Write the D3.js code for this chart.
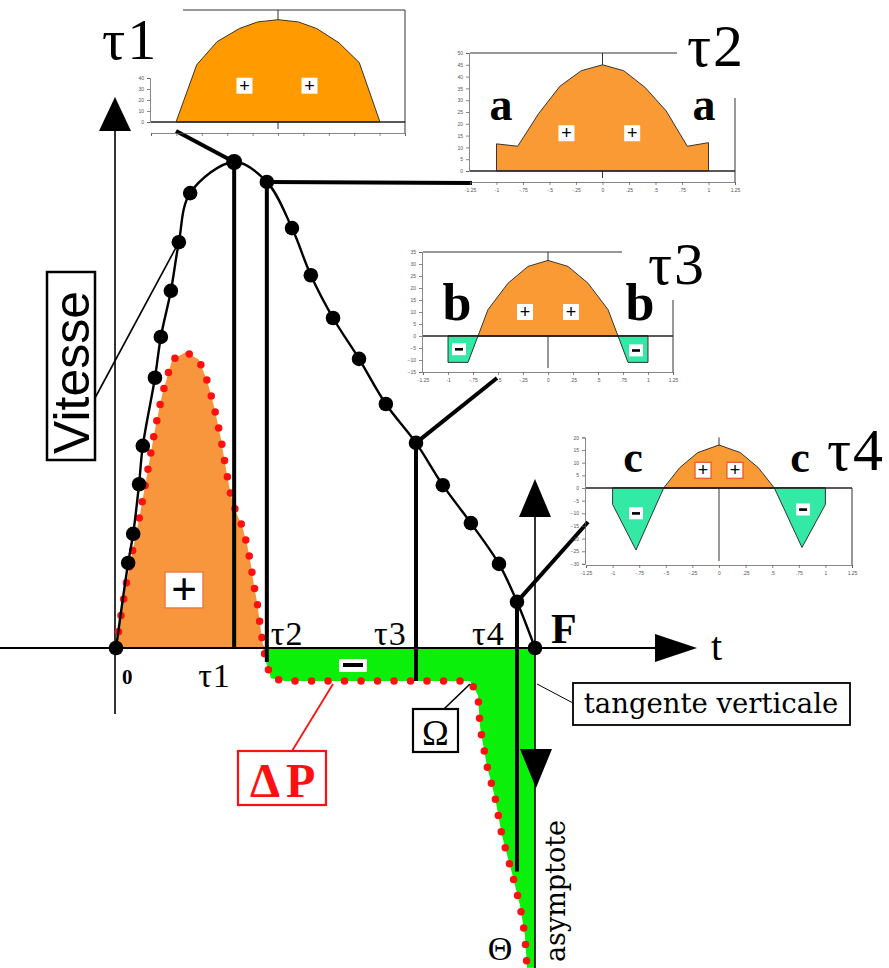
<!DOCTYPE html>
<html>
<head>
<meta charset="utf-8">
<script src="https://cdnjs.cloudflare.com/ajax/libs/d3/7.8.5/d3.min.js"></script>
<style>
  body { margin: 0; background: #fff; }
  .tiny text { font-family: "Liberation Sans", sans-serif; font-size: 5px; fill: #555; }
  .tiny path, .tiny line { stroke: #555; stroke-width: 0.7; }
</style>
</head>
<body>
<div id="chart"></div>
<script>
// ---- main diagram : time t (F = 10), speed and pressure on the same vertical scale ----
var tauNames = ["τ1", "τ2", "τ3", "τ4"];
var tauTimes = [2.82, 3.6, 7.16, 9.57];
var tEnd = 10;                       // F
var presAtTau = [0, -2.9, -6.8, -46]; // where the tau lines stop

// speed (black dots)
var speedT = [0, 0.29, 0.41, 0.55, 0.64, 0.93, 1.07, 1.31, 1.50, 1.77, 2.82, 3.60, 4.20, 4.65, 5.18, 5.80, 6.44, 7.16, 7.80, 8.47, 9.14, 9.57, 10];
var speedV = [0, 17.5, 23.5, 33.7, 41.6, 55.6, 64.0, 73.5, 83.5, 93.6, 100, 95.9, 86.4, 76.7, 67.9, 59.5, 50.2, 42.2, 33.5, 25.7, 17.3, 9.5, 0];

// pressure difference ΔP (red dots)
var presT = [0, 0.12, 0.24, 0.41, 0.57, 0.76, 0.93, 1.10, 1.34, 1.67, 1.98, 2.17, 2.32, 2.41, 2.51, 2.58, 2.65, 2.74, 2.86, 3.01, 3.13, 3.22, 3.29, 3.37, 3.44, 3.51, 3.58, 3.70, 4.03, 8.45, 8.64, 8.69, 8.85, 9.05, 9.21, 9.45, 9.64, 9.76, 9.81];
var presP = [0, 6.8, 13.0, 20.6, 27.4, 36.6, 44.9, 52.1, 59.3, 60.9, 59.3, 55.1, 50.4, 46.9, 42.8, 39.1, 35.6, 31.5, 28.0, 25.1, 21.2, 17.1, 13.0, 9.3, 4.7, 0.6, -2.9, -6.2, -6.8, -6.8, -9.7, -16.3, -24.1, -30.9, -38.5, -46.3, -52.9, -59.1, -65.8];

// velocity profiles across the pipe (r from -1 to 1)
var prof1R = [-1, -0.8, -0.6, -0.38, -0.2, 0, 0.2, 0.38, 0.6, 0.8, 1];
var prof1V = [1, 52, 73, 85, 91, 93, 91, 85, 72, 54, 1];
var prof2R = [-1, -0.8, -0.6, -0.4, -0.2, 0, 0.2, 0.4, 0.6, 0.8, 1];
var prof2V = [11.5, 10.5, 24.5, 36, 42.5, 45, 42.5, 35.5, 25.5, 10.5, 12];
var prof3R = [-1, -0.8, -0.7, -0.6, -0.4, -0.2, 0, 0.2, 0.4, 0.6, 0.7, 0.8, 1];
var prof3V = [-11, -11, 0, 11, 22, 29, 31.5, 29, 22, 11, 0, -11, -11];
var prof4R = [-1, -0.78, -0.52, -0.37, -0.2, 0, 0.2, 0.37, 0.52, 0.78, 1];
var prof4V = [-6.5, -24.5, 0, 8, 14, 17, 14, 8, 0, -23.5, -6.5];

var xTickVals = [-1.25, -1, -0.75, -0.5, -0.25, 0, 0.25, 0.5, 0.75, 1, 1.25];
var xTickLabels = ["-1.25", "-1", "-.75", "-.5", "-.25", "0", ".25", ".5", ".75", "1", "1.25"];
var yTicks1 = [0, 10, 20, 30, 40];
var yTicks2 = d3.range(0, 51, 5);
var yTicks3 = d3.range(-15, 36, 5);
var yTicks4 = d3.range(-30, 21, 5);

var W = 889, H = 968;
var SERIF = "'Liberation Serif', 'Times New Roman', serif";
var WIDE = "'DejaVu Serif', serif";

var svg = d3.select("#chart").append("svg")
    .attr("width", W).attr("height", H)
    .style("background", "#fff");

var x = d3.scaleLinear().domain([0, tEnd]).range([116, 535]);
var y = d3.scaleLinear().domain([0, 100]).range([648, 162]);

var speed = speedT.map(function(t, i) { return {t: t, v: speedV[i]}; });
var pres = presT.map(function(t, i) { return {t: t, p: presP[i]}; });

function speedAt(t) {
    return speed.find(function(d) { return Math.abs(d.t - t) < 1e-6; }).v;
}

var lineP = d3.line().x(function(d) { return x(d.t); }).y(function(d) { return y(d.p); });

// ---- filled areas under ΔP ----
var posPts = pres.filter(function(d) { return d.t <= tauTimes[1]; });
svg.append("path")
    .datum(posPts)
    .attr("d", d3.area()
        .x(function(d) { return x(d.t); })
        .y0(y(0))
        .y1(function(d) { return y(Math.max(0, d.p)); }))
    .attr("fill", "#f7963c");

var iz = pres.findIndex(function(d) { return d.p < 0; });
var negPts = [{t: pres[iz - 1].t, p: 0}]
    .concat(pres.slice(iz))
    .concat([{t: tEnd, p: pres[pres.length - 1].p}, {t: tEnd, p: 0}]);
svg.append("path")
    .attr("d", lineP(negPts) + "Z")
    .attr("fill", "#0af00a");

// ---- axes ----
var ax = svg.append("g");
ax.append("line").attr("x1", 0).attr("x2", 660).attr("y1", y(0)).attr("y2", y(0))
    .attr("stroke", "#000").attr("stroke-width", 2);
ax.append("path").attr("d", "M697," + y(0) + "L655," + (y(0) - 14) + "L655," + (y(0) + 14) + "Z");
ax.append("line").attr("x1", x(0) - 1).attr("x2", x(0) - 1).attr("y1", 714).attr("y2", 128)
    .attr("stroke", "#000").attr("stroke-width", 1.6);
ax.append("path").attr("d", "M" + (x(0) - 1) + ",97L" + (x(0) - 17) + ",131L" + (x(0) + 15) + ",131Z");

// F : vertical tangent, arrows and asymptote
ax.append("line").attr("x1", x(tEnd)).attr("x2", x(tEnd)).attr("y1", 515).attr("y2", H)
    .attr("stroke", "#000").attr("stroke-width", 1.6);
ax.append("path").attr("d", "M" + x(tEnd) + ",479L" + (x(tEnd) - 16) + ",517L" + (x(tEnd) + 16) + ",517Z");
ax.append("path").attr("d", "M" + (x(tEnd) + 1) + ",788L" + (x(tEnd) - 15) + ",749L" + (x(tEnd) + 17) + ",749Z");

// ---- red dotted ΔP curve ----
svg.append("path")
    .datum(pres)
    .attr("d", lineP)
    .attr("fill", "none")
    .attr("stroke", "#ff1010")
    .attr("stroke-width", 7.5)
    .attr("stroke-linecap", "round")
    .attr("stroke-dasharray", "0 16.5");

// ---- tau lines and leaders to the insets ----
var leaderEnds = [[176, 131], [472, 183], [497, 378], [588, 522]];
tauTimes.forEach(function(t, i) {
    svg.append("line")
        .attr("x1", x(t)).attr("x2", x(t))
        .attr("y1", y(speedAt(t))).attr("y2", y(presAtTau[i]))
        .attr("stroke", "#000").attr("stroke-width", 4);
    svg.append("line")
        .attr("x1", x(t)).attr("y1", y(speedAt(t)))
        .attr("x2", leaderEnds[i][0]).attr("y2", leaderEnds[i][1])
        .attr("stroke", "#000").attr("stroke-width", 4);
});

// leader from "Vitesse" box
svg.append("line")
    .attr("x1", x(speed[8].t)).attr("y1", y(speed[8].v))
    .attr("x2", 95).attr("y2", 398)
    .attr("stroke", "#000").attr("stroke-width", 1.6);

// ---- speed curve ----
svg.append("path")
    .datum(speed)
    .attr("d", d3.line().curve(d3.curveCatmullRom.alpha(0.5))
        .x(function(d) { return x(d.t); }).y(function(d) { return y(d.v); }))
    .attr("fill", "none").attr("stroke", "#000").attr("stroke-width", 2.4);

svg.selectAll(".dot")
    .data(speed)
    .enter().append("circle")
    .attr("class", "dot")
    .attr("cx", function(d) { return x(d.t); })
    .attr("cy", function(d) { return y(d.v); })
    .attr("r", function(d) { return d.v === 100 ? 8 : 7.3; })
    .attr("fill", "#000");

// ---- labels of the main diagram ----
function label(txt, px, py, size, opts) {
    opts = opts || {};
    var t = svg.append("text")
        .attr("x", px).attr("y", py)
        .attr("font-family", opts.family || SERIF)
        .attr("font-size", size)
        .attr("font-weight", opts.bold ? "bold" : "normal")
        .attr("fill", opts.color || "#000")
        .attr("text-anchor", opts.anchor || "start")
        .text(txt);
    if (opts.rotate) t.attr("transform", "rotate(-90," + px + "," + py + ")");
    if (opts.spacing) t.attr("letter-spacing", opts.spacing);
    return t;
}

function boxed(px, py, w, h, stroke, sw) {
    svg.append("rect").attr("x", px).attr("y", py).attr("width", w).attr("height", h)
        .attr("fill", "#fff").attr("stroke", stroke).attr("stroke-width", sw);
}

label("0", x(0) + 6, 684, 21, {bold: true});
label(tauNames[0], x(tauTimes[0]) - 36, 687, 34, {spacing: 1});
label(tauNames[1], x(tauTimes[1]) + 4, 645, 34, {spacing: 1});
label(tauNames[2], x(tauTimes[2]) - 42, 645, 34, {spacing: 1});
label(tauNames[3], x(tauTimes[3]) - 45, 645, 34, {spacing: 1});
label("F", x(tEnd) + 16, 643, 42, {bold: true});
label("t", 711, 660, 40);

// "+" and "−" boxes
boxed(165, 572, 38, 36, "#f07a45", 1.5);
label("+", 184, 604, 44, {anchor: "middle", family: "'Liberation Sans', sans-serif"});
boxed(339, 659, 28, 13, "#fff", 0);
svg.append("rect").attr("x", 343).attr("y", 663).attr("width", 20).attr("height", 4).attr("fill", "#000");

// Vitesse
boxed(47, 272, 48, 188, "#000", 2.5);
label("Vitesse", 89, 454, 50, {rotate: true, family: "'Liberation Sans', Arial, sans-serif"});

// ΔP
svg.append("line").attr("x1", 333).attr("y1", 684).attr("x2", 292).attr("y2", 751)
    .attr("stroke", "#ff1010").attr("stroke-width", 1.8);
boxed(238, 751, 88, 54, "#ff1010", 2.2);
label("ΔP", 250, 797, 48, {bold: true, color: "#ff1010", spacing: 6});

// Ω
svg.append("line").attr("x1", 470).attr("y1", 684).attr("x2", 444).attr("y2", 709)
    .attr("stroke", "#000").attr("stroke-width", 1.6);
boxed(413, 709, 45, 43, "#000", 2.2);
label("Ω", 435.5, 745, 36, {anchor: "middle"});

// tangente verticale
svg.append("line").attr("x1", x(tEnd) + 2).attr("y1", 684).attr("x2", 573).attr("y2", 703)
    .attr("stroke", "#000").attr("stroke-width", 1);
boxed(573, 683, 277, 42, "#000", 1.8);
label("tangente verticale", 711, 713, 27.5, {anchor: "middle", family: WIDE});

label("asymptote", 565, 962, 27, {rotate: true, family: WIDE});
label("Θ", 500, 960, 34, {anchor: "middle"});

// ---- insets : velocity profile across the pipe at each tau ----
var insets = [
    {r: prof1R, v: prof1V, left: 151, right: 405, zeroY: 122, k: 1.1, axisY: 133, yTicks: yTicks1,
     topY: 10, topFrom: 183, topTo: 405, rightFrom: 10, xLabels: false, fill: "#ff9a00",
     plus: [[-0.33, 33], [0.31, 33]], minus: [],
     name: tauNames[0], nameX: 102, nameY: 59, nameSize: 58, letters: []},
    {r: prof2R, v: prof2V, left: 470, right: 735, zeroY: 171, k: 2.36, axisY: 182, yTicks: yTicks2,
     topY: 53, topFrom: 470, topTo: 677, rightFrom: 98, xLabels: true, fill: "#f99a35",
     plus: [[-0.34, 16], [0.28, 16]], minus: [],
     name: tauNames[1], nameX: 687, nameY: 66, letters: [["a", 501, 120], ["a", 704, 120]], letterSize: 46},
    {r: prof3R, v: prof3V, left: 423, right: 673, zeroY: 336, k: 2.4, axisY: 372, yTicks: yTicks3,
     topY: 252, topFrom: 423, topTo: 622, rightFrom: 300, xLabels: true, fill: "#f99a35",
     plus: [[-0.23, 10], [0.23, 10]], minus: [[-0.89, -5.5], [0.88, -6]],
     name: tauNames[2], nameX: 648, nameY: 284, letters: [["b", 457, 320], ["b", 640, 320]], letterSize: 52},
    {r: prof4R, v: prof4V, left: 586, right: 852, zeroY: 488, k: 2.53, axisY: 565, yTicks: yTicks4,
     topY: null, rightFrom: 488, xLabels: true, fill: "#f99a35", plusBorder: "#f05020",
     plus: [[-0.15, 7], [0.15, 7]], minus: [[-0.78, -10], [0.79, -8.5]],
     name: tauNames[3], nameX: 827, nameY: 470, letters: [["c", 633, 472], ["c", 800, 472]], letterSize: 44}
];

insets.forEach(function(o) {
    var g = svg.append("g");
    var xs = d3.scaleLinear().domain([-1.25, 1.25]).range([o.left, o.right]);
    var ymin = d3.min(o.yTicks), ymax = d3.max(o.yTicks);
    var ys = d3.scaleLinear().domain([ymin, ymax]).range([o.zeroY + o.k * (-ymin), o.zeroY - o.k * ymax]);
    var pts = o.r.map(function(r, i) { return {r: r, v: o.v[i]}; });
    var frame = "#333";

    // frame
    if (o.topY !== null) {
        g.append("line").attr("x1", o.topFrom).attr("x2", o.topTo).attr("y1", o.topY).attr("y2", o.topY)
            .attr("stroke", frame).attr("stroke-width", 1.2);
    }
    g.append("line").attr("x1", o.right).attr("x2", o.right).attr("y1", o.rightFrom).attr("y2", o.axisY)
        .attr("stroke", frame).attr("stroke-width", 1);
    g.append("line").attr("x1", xs(0)).attr("x2", xs(0))
        .attr("y1", o.topY !== null ? o.topY : ys(ymax)).attr("y2", o.axisY - 4)
        .attr("stroke", frame).attr("stroke-width", 1);

    // positive part (orange) and negative part (green)
    g.append("path").datum(pts)
        .attr("d", d3.area().x(function(d) { return xs(d.r); }).y0(ys(0))
            .y1(function(d) { return ys(Math.max(0, d.v)); }))
        .attr("fill", o.fill).attr("stroke", "#222").attr("stroke-width", 0.9);
    if (d3.min(o.v) < 0) {
        g.append("path").datum(pts)
            .attr("d", d3.area().x(function(d) { return xs(d.r); }).y0(ys(0))
                .y1(function(d) { return ys(Math.min(0, d.v)); }))
            .attr("fill", "#34e8a5").attr("stroke", "#222").attr("stroke-width", 0.9);
    }
    g.append("line").attr("x1", o.left).attr("x2", o.right).attr("y1", ys(0)).attr("y2", ys(0))
        .attr("stroke", "#222").attr("stroke-width", 1.3);

    // tiny axes
    g.append("g").attr("class", "tiny")
        .attr("transform", "translate(" + (o.left - 1) + ",0)")
        .call(d3.axisLeft(ys).tickValues(o.yTicks).tickSize(3).tickFormat(d3.format("d")));
    var xa = g.append("g").attr("class", "tiny")
        .attr("transform", "translate(0," + o.axisY + ")")
        .call(d3.axisBottom(xs).tickValues(xTickVals).tickSize(3)
            .tickFormat(function(d, i) { return o.xLabels ? xTickLabels[i] : ""; }));
    xa.select(".domain").attr("stroke", "#222").attr("stroke-width", 1.3);

    // + / - markers
    o.plus.forEach(function(m) {
        g.append("rect").attr("x", xs(m[0]) - 8).attr("y", ys(m[1]) - 8).attr("width", 16).attr("height", 16)
            .attr("fill", "#fff").attr("stroke", o.plusBorder || "none").attr("stroke-width", 1.2);
        g.append("text").attr("x", xs(m[0])).attr("y", ys(m[1]) + 6).attr("text-anchor", "middle")
            .attr("font-family", "'Liberation Sans', sans-serif").attr("font-size", 18).text("+");
    });
    o.minus.forEach(function(m) {
        g.append("rect").attr("x", xs(m[0]) - 7).attr("y", ys(m[1]) - 6).attr("width", 14).attr("height", 12)
            .attr("fill", "#fff");
        g.append("rect").attr("x", xs(m[0]) - 4).attr("y", ys(m[1]) - 1.2).attr("width", 8).attr("height", 2.6)
            .attr("fill", "#000");
    });

    // letters and tau name
    o.letters.forEach(function(l) {
        g.append("text").attr("x", l[1]).attr("y", l[2]).attr("text-anchor", "middle")
            .attr("font-family", SERIF).attr("font-weight", "bold").attr("font-size", o.letterSize).text(l[0]);
    });
    g.append("text").attr("x", o.nameX).attr("y", o.nameY)
        .attr("font-family", SERIF).attr("font-size", o.nameSize || 60).attr("letter-spacing", 2).text(o.name);
});
</script>
</body>
</html>
